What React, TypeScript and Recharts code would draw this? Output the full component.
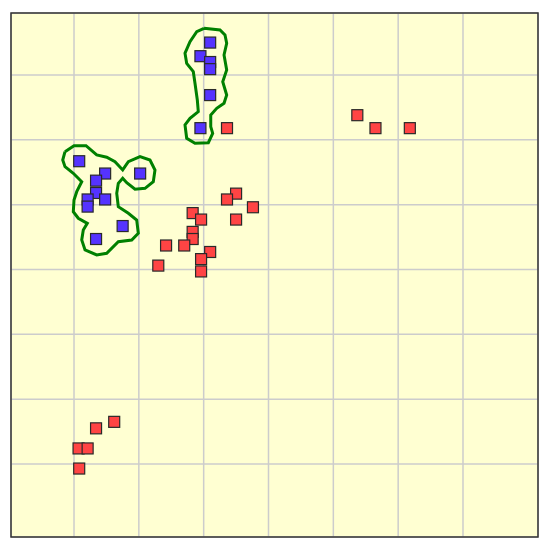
import { ScatterChart, Scatter, XAxis, YAxis, CartesianGrid, ReferenceArea } from 'recharts';

// grid spacing = 1 unit, y grows downward
const gridTicks = [1, 2, 3, 4, 5, 6, 7];
const xDomain: [number, number] = [0.028, 8.157];
const yDomain: [number, number] = [0.044, 8.126];

const bluePoints = [
  { x: 3.1, y: 0.5 },
  { x: 2.95, y: 0.71 },
  { x: 3.1, y: 0.8 },
  { x: 3.1, y: 0.91 },
  { x: 3.1, y: 1.31 },
  { x: 2.95, y: 1.82 },
  { x: 1.08, y: 2.33 },
  { x: 1.48, y: 2.52 },
  { x: 2.02, y: 2.52 },
  { x: 1.34, y: 2.63 },
  { x: 1.34, y: 2.82 },
  { x: 1.21, y: 2.92 },
  { x: 1.48, y: 2.92 },
  { x: 1.21, y: 3.03 },
  { x: 1.75, y: 3.33 },
  { x: 1.34, y: 3.53 },
];

const redPoints = [
  { x: 3.36, y: 1.82 },
  { x: 3.5, y: 2.83 },
  { x: 3.36, y: 2.92 },
  { x: 3.76, y: 3.04 },
  { x: 2.83, y: 3.13 },
  { x: 2.96, y: 3.23 },
  { x: 3.5, y: 3.23 },
  { x: 2.83, y: 3.42 },
  { x: 2.83, y: 3.53 },
  { x: 2.42, y: 3.63 },
  { x: 2.7, y: 3.63 },
  { x: 3.1, y: 3.73 },
  { x: 2.96, y: 3.84 },
  { x: 2.3, y: 3.94 },
  { x: 2.96, y: 4.03 },
  { x: 5.37, y: 1.62 },
  { x: 5.65, y: 1.82 },
  { x: 6.18, y: 1.82 },
  { x: 1.62, y: 6.35 },
  { x: 1.34, y: 6.45 },
  { x: 1.07, y: 6.76 },
  { x: 1.21, y: 6.76 },
  { x: 1.08, y: 7.07 },
];

const topContourPx = [
  [204, 28.3], [220, 30], [225, 35], [226.7, 43.3], [224, 55], [226.7, 70], [222.7, 81.7],
  [226.7, 95], [224, 103.3], [216.7, 108.3], [210.7, 115], [210.7, 126.7], [212.7, 133.3],
  [208.3, 142.7], [195, 143.3], [186.7, 138.3], [185, 125], [190, 118.3], [198.3, 111.7],
  [197.3, 100], [195, 83.3], [193.3, 71.7], [186.7, 63.3], [185, 53.3], [190, 41.7],
  [196.7, 31.7], [204, 28.3],
];

const leftContourPx = [
  [65, 151.7], [74, 145.7], [86, 145.7], [96.7, 155], [106.7, 157.3], [115, 161.7],
  [122.7, 170], [128.3, 161.7], [140, 156.7], [150, 160], [155, 170], [153.3, 181.7],
  [145, 188.3], [135, 189.3], [126.7, 182.7], [122.7, 178.3], [118.3, 183.3], [116.7, 193.3],
  [118.3, 206.7], [128.3, 213.3], [136.7, 220], [138.3, 233.3], [131.7, 240], [118.3, 241.7],
  [106.7, 253.3], [96.7, 255], [85, 250], [81.7, 240], [83.3, 230], [87.3, 223.3],
  [78.3, 218.3], [73.3, 211.7], [74, 200], [76.7, 191.7], [81.7, 181.7], [73.3, 173.3],
  [65, 166.7], [62.7, 160], [65, 151.7],
];

const toUnits = (pts: number[][]) =>
  pts.map(([px, py]) => ({
    x: Math.round((1 + (px - 74) / 64.83) * 1000) / 1000,
    y: Math.round((1 + (py - 75) / 64.83) * 1000) / 1000,
  }));

const topContour = toUnits(topContourPx);
const leftContour = toUnits(leftContourPx);

const Square = (color: string) => (props: any) => {
  const { cx, cy } = props;
  return (
    <rect
      x={cx - 5.5}
      y={cy - 5.5}
      width={11}
      height={11}
      fill={color}
      stroke="#2a2a2a"
      strokeWidth={1.2}
    />
  );
};

const NoDot = () => <g />;

export default function App() {
  return (
    <ScatterChart width={534} height={534} margin={{ top: 5, right: 4, bottom: 5, left: 3 }}>
      <CartesianGrid fill="#ffffd2" stroke="#cccccc" strokeWidth={1.5} />
      <XAxis type="number" dataKey="x" domain={xDomain} ticks={gridTicks} allowDataOverflow hide />
      <YAxis type="number" dataKey="y" domain={yDomain} ticks={gridTicks} reversed allowDataOverflow hide />
      <ReferenceArea
        x1={xDomain[0]}
        x2={xDomain[1]}
        y1={yDomain[0]}
        y2={yDomain[1]}
        fill="none"
        fillOpacity={0}
        stroke="#333333"
        strokeWidth={1.5}
      />
      <Scatter data={topContour} line={{ stroke: '#008000', strokeWidth: 3 }} shape={NoDot} isAnimationActive={false} />
      <Scatter data={leftContour} line={{ stroke: '#008000', strokeWidth: 3 }} shape={NoDot} isAnimationActive={false} />
      <Scatter data={redPoints} shape={Square('#ff4444')} isAnimationActive={false} />
      <Scatter data={bluePoints} shape={Square('#5533ff')} isAnimationActive={false} />
    </ScatterChart>
  );
}
